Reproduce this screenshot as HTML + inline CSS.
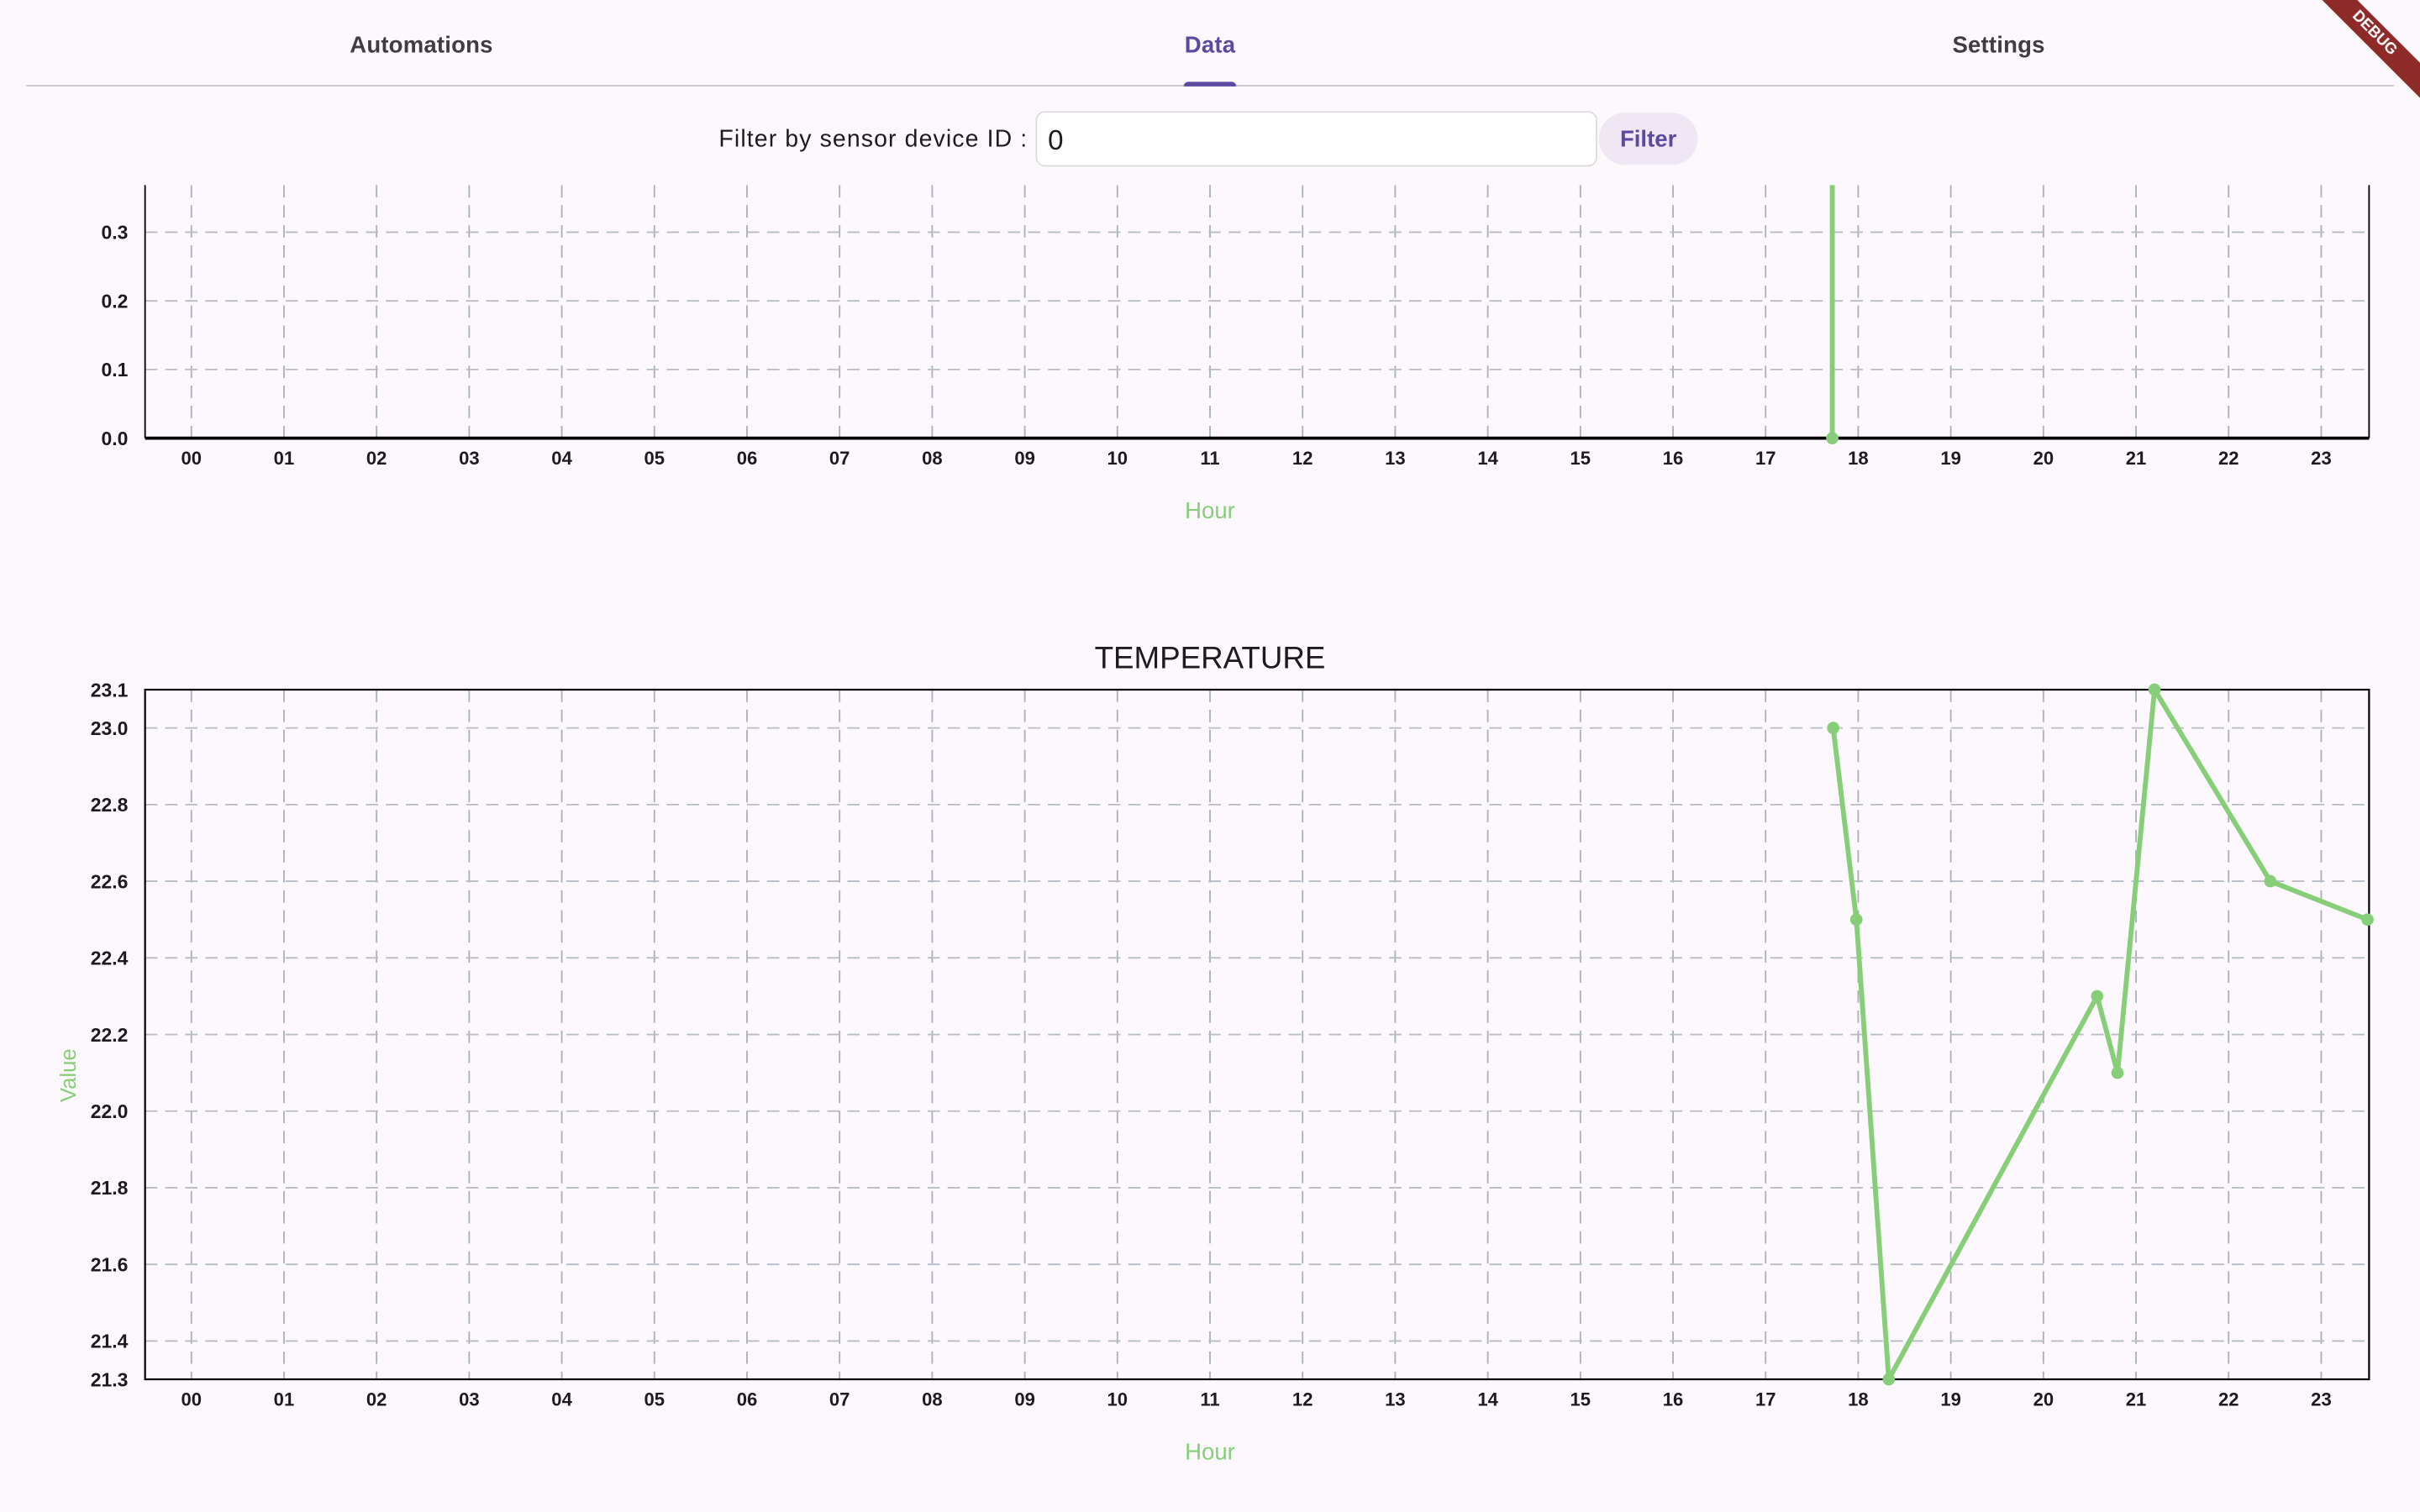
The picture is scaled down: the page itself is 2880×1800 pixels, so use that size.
<!DOCTYPE html>
<html><head><meta charset="utf-8"><style>
html,body{margin:0;padding:0;background:#fdf8fd;overflow:hidden;width:2880px;height:1800px}
#wrap{position:absolute;left:0;top:0;width:1568px;height:980px;transform:scale(1.836735);transform-origin:0 0;font-family:"Liberation Sans",sans-serif;color:#1d1b20}
.tab{position:absolute;top:21px;font-size:15px;transform:translateX(-50%);color:#3f3c44;font-weight:bold;letter-spacing:0.1px}
</style></head><body>
<div id="wrap">
<div class="tab" style="left:273px">Automations</div>
<div class="tab" style="left:784px;color:#5b4a9e">Data</div>
<div class="tab" style="left:1295px">Settings</div>
<div style="position:absolute;left:17px;top:55px;width:1534px;height:1px;background:#cac4d0"></div>
<div style="position:absolute;left:767px;top:53px;width:34px;height:3px;border-radius:3px 3px 0 0;background:#5b4a9e"></div>
<div style="position:absolute;right:902px;top:82px;font-size:15.5px;letter-spacing:0.6px">Filter by sensor device ID :</div>
<div style="position:absolute;left:671px;top:72px;height:36px;background:#fff;border:1px solid #ddd;border-radius:6px;font-size:18px;line-height:36px;padding-left:7px;box-sizing:border-box;width:364px">0</div>
<div style="position:absolute;left:1036px;top:73px;width:64px;height:34px;background:#efe8f4;border-radius:17px;color:#5b4a9e;font-size:15px;font-weight:bold;line-height:35px;text-align:center">Filter</div>
<div style="position:absolute;right:-30px;top:14px;width:120px;height:16px;background:#8e2a28;color:#fff;font-size:10px;font-weight:bold;text-align:center;line-height:16px;transform:rotate(45deg)">DEBUG</div>
<svg id="svg" width="1568" height="980" style="position:absolute;left:0;top:0"></svg>
</div>
<script>
const hourLabels=["00","01","02","03","04","05","06","07","08","09","10","11","12","13","14","15","16","17","18","19","20","21","22","23"];
const c1Ticks=[0.0,0.1,0.2,0.3];
const c1Hours=[17.72,17.72];
const c1Values=[0,1];
const c2Ticks=[21.3,21.4,21.6,21.8,22.0,22.2,22.4,22.6,22.8,23.0,23.1];
const c2Hours=[17.73,17.98,18.33,20.58,20.8,21.2,22.45,23.5];
const c2Values=[23.0,22.5,21.3,22.3,22.1,23.1,22.6,22.5];
const svg=document.getElementById('svg');
const NS='http://www.w3.org/2000/svg';
function mk(t,a,p){const e=document.createElementNS(NS,t);for(const k in a)e.setAttribute(k,a[k]);(p||svg).appendChild(e);return e;}
const X=h=>124+60*h;
const GREEN='#86cf78';
function chart(top,bottom,ymin,ymax,ticks,hs,vs,fullBox,ylabelfmt,name){
  const Y=v=>bottom-(v-ymin)/(ymax-ymin)*(bottom-top);
  const g=mk('g',{});
  
  
  const cp=mk('clipPath',{id:'cp'+name},g);
  mk('rect',{x:94,y:top,width:1441,height:bottom-top},cp);
  hourLabels.forEach((l,i)=>{
    const ln=mk('line',{x1:X(i),x2:X(i),y1:top,y2:bottom,stroke:'#aab0bc','stroke-width':1,'stroke-dasharray':'8,5'},g);
    
    
    const t=mk('text',{x:X(i),y:bottom+17,'text-anchor':'middle','font-size':12,'font-weight':'bold',fill:'#1d1b20'},g);
    t.textContent=l;
    
    
  });
  ticks.forEach(v=>{
    const y=Y(v);
    if(v>ymin&&v<ymax){const ln=mk('line',{x1:94,x2:1535,y1:y,y2:y,stroke:'#b8bcc6','stroke-width':1,'stroke-dasharray':'8,5'},g);
    
    }
    const t=mk('text',{x:83,y:y+4.5,'text-anchor':'end','font-size':12.5,'font-weight':'bold',fill:'#1d1b20'},g);
    t.textContent=v.toFixed(1);
    
    
  });
  if(fullBox){mk('rect',{x:94,y:top,width:1441,height:bottom-top,fill:'none',stroke:'#000','stroke-width':1.2},g);}
  else{mk('line',{x1:94,x2:94,y1:top,y2:bottom,stroke:'#000','stroke-width':1},g);
    mk('line',{x1:1535,x2:1535,y1:top,y2:bottom,stroke:'#000','stroke-width':1},g);
    mk('line',{x1:94,x2:1535,y1:bottom,y2:bottom,stroke:'#000','stroke-width':2},g);}
  const pts=hs.map((h,i)=>X(h)+','+Y(vs[i])).join(' ');
  const pl=mk('polyline',{points:pts,fill:'none',stroke:GREEN,'stroke-width':3.2,'stroke-linejoin':'round','clip-path':fullBox?'':'url(#cp'+name+')'},g);
  
  
  hs.forEach((h,i)=>{
    if(!fullBox&&vs[i]>ymax)return;
    const c=mk('circle',{cx:X(h),cy:Y(vs[i]),r:4,fill:GREEN},g);
    
    
  });
  const ht=mk('text',{x:784,y:bottom+52,'text-anchor':'middle','font-size':15,fill:GREEN},g);
  ht.textContent='Hour';
  
  
}
chart(120,284,0,0.3685,c1Ticks,c1Hours,c1Values,false,null,'chart-1');
chart(447,894,21.3,23.1,c2Ticks,c2Hours,c2Values,true,null,'temperature-chart');
const tt=mk('text',{x:784,y:433,'text-anchor':'middle','font-size':20,fill:'#1d1b20'});
tt.textContent='TEMPERATURE';


const vt=mk('text',{x:0,y:0,'text-anchor':'middle','font-size':14,fill:GREEN,transform:'translate(49,697) rotate(-90)'});
vt.textContent='Value';


</script>
</body></html>
